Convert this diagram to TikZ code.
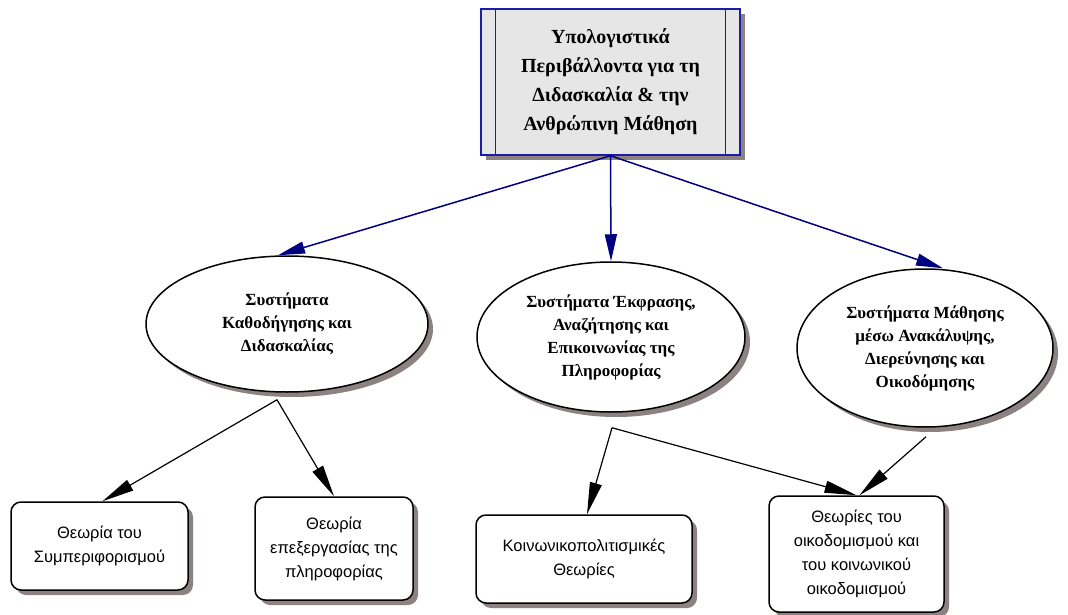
\documentclass[tikz,border=0pt]{standalone}
\usepackage{fontspec}
\setmainfont{Liberation Serif}
\setsansfont{Liberation Sans}
\usetikzlibrary{shapes.geometric,shadows,arrows.meta}
\definecolor{topfill}{HTML}{E6E6E6}
\definecolor{topline}{HTML}{1C1CA8}
\definecolor{navyarr}{HTML}{000080}
\definecolor{shade}{HTML}{8C8282}

\begin{document}
\begin{tikzpicture}[x=1pt,y=-1pt,
    sh/.style={drop shadow={shadow xshift=5pt,shadow yshift=-5pt,fill=shade,opacity=1}},
    topbox/.style={draw=topline,fill=topfill,line width=1.5pt,sh,
      minimum width=259pt,minimum height=146pt,inner sep=0pt,align=center,
      font=\bfseries\fontsize{20}{29}\selectfont},
    sys/.style={ellipse,draw,fill=white,line width=1.5pt,sh,inner sep=0pt,align=center,
      font=\bfseries\fontsize{17}{23}\selectfont},
    theory/.style={draw,fill=white,rounded corners=10pt,line width=1.5pt,sh,inner sep=0pt,
      align=center,font=\sffamily\fontsize{16.5}{24}\selectfont},
    toparr/.style={navyarr,line width=1.5pt,-{Triangle[length=27pt,width=12pt]}},
    subarr/.style={black,line width=1.2pt,-{Triangle[length=32pt,width=12pt]}}]
        \useasboundingbox (0,0) rectangle (1068,615);

        \path
        (610.5,82) node[topbox](top) {Υπολογιστικά\\Περιβάλλοντα για τη\\Διδασκαλία \& την\\Ανθρώπινη Μάθηση}
        ;
        \draw[topline,line width=1.2pt] ([xshift=15pt]top.north west) -- ([xshift=15pt]top.south west);
        \draw[topline,line width=1.2pt] ([xshift=-15pt]top.north east) -- ([xshift=-15pt]top.south east);

        \path
        (287,324) node[sys,minimum width=282pt,minimum height=136pt](e1) {Συστήματα\\Καθοδήγησης και\\Διδασκαλίας}
        (611,337) node[sys,minimum width=268pt,minimum height=150pt](e2) {Συστήματα Έκφρασης,\\Αναζήτησης και\\Επικοινωνίας της\\Πληροφορίας}
        (925,348) node[sys,minimum width=256pt,minimum height=158pt](e3) {Συστήματα Μάθησης\\μέσω Ανακάλυψης,\\Διερεύνησης και\\Οικοδόμησης}
        ;
        \draw[toparr] (top.south) -- ([xshift=-9pt]e1.north);
        \draw[toparr] (top.south) -- (e2.north);
        \draw[toparr] (top.south) -- ([xshift=18pt]e3.north);

        \path
        (99.5,546) node[theory,minimum width=177pt,minimum height=88pt](b1) {Θεωρία του\\Συμπεριφορισμού}
        (334,548.5) node[theory,minimum width=158pt,minimum height=103pt](b2) {Θεωρία\\επεξεργασίας της\\πληροφορίας}
        (584,559) node[theory,minimum width=216pt,minimum height=88pt](b3) {Κοινωνικοπολιτισμικές\\Θεωρίες}
        (856.5,554) node[theory,minimum width=175pt,minimum height=116pt](b4) {Θεωρίες του\\οικοδομισμού και\\του κοινωνικού\\οικοδομισμού}
        ;
        \coordinate (j1) at ([shift={(-10,7)}]e1.south);
        \coordinate (j2) at ([shift={(1,15)}]e2.south);
        \coordinate (j3) at ([shift={(1,9)}]e3.south);
        \draw[subarr] (j1) -- ([xshift=3pt]b1.north);
        \draw[subarr] (j1) -- (b2.north);
        \draw[subarr] (j2) -- ([xshift=3pt]b3.north);
        \draw[subarr] (j2) -- (b4.north);
        \draw[subarr] (j3) -- ([xshift=3pt]b4.north);
\end{tikzpicture}
\end{document}
